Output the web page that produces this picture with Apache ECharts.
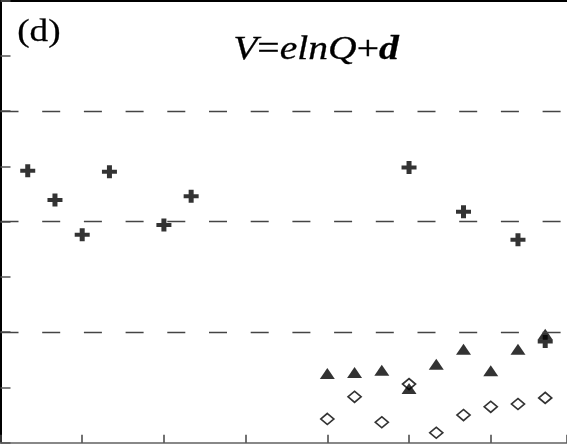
<!DOCTYPE html>
<html>
<head>
<meta charset="utf-8">
<script src="https://cdn.jsdelivr.net/npm/echarts@6/dist/echarts.min.js"></script>
<style>html,body{margin:0;padding:0;background:#fff}#c{width:567px;height:446px}</style>
</head>
<body>
<div id="c"></div>
<script>
// Data
const crossX = [1, 2, 3, 4, 6, 7, 15, 17, 19, 20];
const crossY = [4.92, 4.39, 3.76, 4.90, 3.94, 4.46, 4.98, 4.18, 3.67, 1.83];
const triX = [12, 13, 14, 15, 16, 17, 18, 19, 20];
const triY = [1.25, 1.27, 1.31, 0.98, 1.42, 1.69, 1.30, 1.69, 1.96];
const diaX = [12, 13, 14, 15, 16, 17, 18, 19, 20];
const diaY = [0.43, 0.83, 0.37, 1.06, 0.18, 0.50, 0.65, 0.70, 0.81];
const dashedLevels = [2, 4, 6];
const panelLabel = '(d)';

const zip = (xs, ys) => xs.map((x, i) => [x, ys[i]]);
const plusPath = 'path://M0,4.5 H5 V0 H10 V4.5 H15 V8.5 H10 V13 H5 V8.5 H0 Z';

const chart = echarts.init(document.getElementById('c'), null, {renderer: 'canvas'});
chart.setOption({
  animation: false,
  backgroundColor: '#fff',
  grid: {left: 0.5, right: 0, top: 0.5, bottom: 3.3},
  xAxis: [{
    type: 'value', min: 0, max: 20.8, interval: 3,
    axisLine: {show: true, onZero: false, lineStyle: {color: '#888', width: 2}},
    axisTick: {show: true, inside: true, length: 8, lineStyle: {color: '#444', width: 1.5}},
    axisLabel: {show: false}, splitLine: {show: false}
  }, {
    type: 'value', position: 'top', min: 0, max: 20.8,
    axisLine: {show: true, onZero: false, lineStyle: {color: '#000', width: 2}},
    axisTick: {show: false}, axisLabel: {show: false}, splitLine: {show: false}
  }],
  yAxis: {
    type: 'value', min: 0, max: 8, interval: 1,
    axisLine: {show: true, onZero: false, lineStyle: {color: '#000', width: 2}},
    axisTick: {show: true, inside: true, length: 10, lineStyle: {color: '#555', width: 1.5}},
    axisLabel: {show: false}, splitLine: {show: false}
  },
  series: [{
    type: 'scatter', name: 'diamond', data: zip(diaX, diaY),
    symbol: 'diamond', symbolSize: [13, 11],
    itemStyle: {color: '#fff', borderColor: '#000', borderWidth: 1.7},
    markLine: {
      silent: true, symbol: 'none', label: {show: false},
      lineStyle: {color: '#444', width: 1.4, type: [18, 23.7]},
      data: dashedLevels.map(v => ({yAxis: v}))
    },
    z: 3
  }, {
    type: 'scatter', name: 'triangle', data: zip(triX, triY),
    symbol: 'triangle', symbolSize: [15, 11],
    itemStyle: {color: '#000'}, z: 4
  }, {
    type: 'scatter', name: 'cross', data: zip(crossX, crossY),
    symbol: plusPath, symbolSize: [15, 13], symbolKeepAspect: false,
    itemStyle: {color: '#000'}, z: 5
  }],
  graphic: [{
    type: 'text', left: 17, top: 17,
    style: {text: panelLabel, font: '31px "Liberation Serif"', fill: '#000', stroke: '#000', lineWidth: 0.25},
    scaleX: 1.2
  }, {
    type: 'text', left: 233, top: 34,
    scaleX: 1.2,
    style: {
      text: '{i|V}{u|=}{i|elnQ}{u|+}{b|d}',
      stroke: '#000', lineWidth: 0.3,
      rich: {
        i: {font: 'italic 33px "Liberation Serif"', fill: '#000'},
        u: {font: '33px "Liberation Serif"', fill: '#000'},
        b: {font: 'italic bold 33px "Liberation Serif"', fill: '#000'}
      }
    }
  }]
});
</script>
</body>
</html>
